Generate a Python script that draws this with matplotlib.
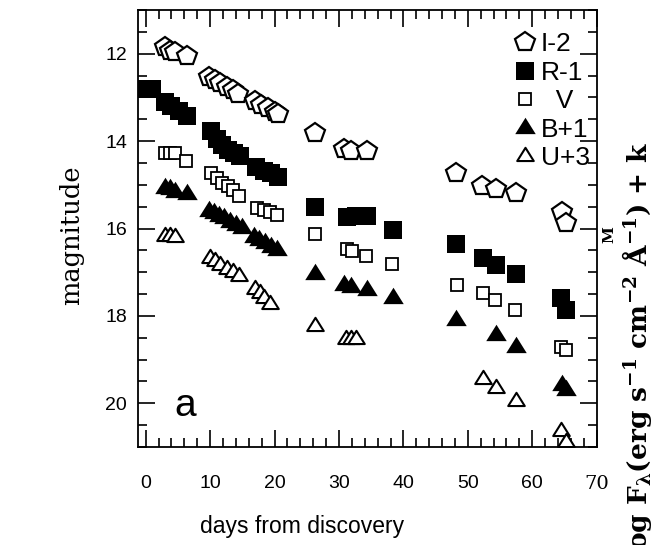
import matplotlib
matplotlib.use("Agg")
import matplotlib.pyplot as plt
from matplotlib.ticker import MultipleLocator
from matplotlib.path import Path

# ---------------- data (days from discovery, magnitude) ----------------
I_days = [3.0, 3.8, 4.5, 6.4, 9.8, 10.7, 11.6, 12.6, 13.6, 14.4, 16.9, 17.9, 19.0, 20.0, 20.6,
          26.2, 30.8, 31.8, 34.3, 48.1, 52.2, 54.3, 57.4, 64.6, 65.3]
I_mag = [11.85, 11.93, 11.97, 12.05, 12.53, 12.60, 12.68, 12.77, 12.84, 12.92, 13.09, 13.17, 13.25,
         13.33, 13.38, 13.82, 14.18, 14.22, 14.22, 14.74, 15.02, 15.10, 15.18, 15.62, 15.87]

R_days = [0.0, 1.0, 3.0, 4.0, 5.2, 6.4, 10.2, 11.0, 11.9, 12.8, 13.7, 14.6, 17.1, 18.3, 19.4, 20.5,
          26.3, 31.3, 32.6, 34.4, 38.4, 48.2, 52.3, 54.3, 57.4, 64.5, 65.2]
R_mag = [12.80, 12.80, 13.10, 13.20, 13.30, 13.43, 13.76, 13.95, 14.08, 14.20, 14.28, 14.34, 14.60,
         14.68, 14.73, 14.82, 15.50, 15.74, 15.72, 15.72, 16.03, 16.36, 16.68, 16.83, 17.03, 17.60, 17.87]

V_days = [3.0, 3.8, 4.6, 6.3, 10.1, 11.0, 11.8, 12.7, 13.6, 14.5, 17.2, 18.3, 19.3, 20.3,
          26.2, 31.2, 32.0, 34.2, 38.3, 48.3, 52.3, 54.2, 57.3, 64.5, 65.2]
V_mag = [14.27, 14.27, 14.28, 14.46, 14.72, 14.85, 14.95, 15.03, 15.13, 15.25, 15.53, 15.57, 15.63,
         15.68, 16.12, 16.48, 16.52, 16.62, 16.81, 17.30, 17.48, 17.63, 17.87, 18.72, 18.78]

B_days = [3.0, 3.8, 4.6, 6.4, 9.8, 10.6, 11.4, 12.2, 13.1, 14.0, 14.9, 16.8, 17.6, 18.5, 19.4, 20.3,
          26.2, 30.8, 31.8, 34.4, 38.4, 48.2, 54.3, 57.4, 64.6, 65.2]
B_mag = [15.07, 15.10, 15.16, 15.22, 15.60, 15.65, 15.71, 15.77, 15.84, 15.91, 15.98, 16.20, 16.27,
         16.34, 16.42, 16.50, 17.03, 17.30, 17.34, 17.41, 17.60, 18.10, 18.43, 18.72, 19.58, 19.70]

U_days = [3.0, 3.8, 4.5, 9.9, 10.8, 11.6, 12.6, 13.6, 14.5, 17.0, 17.7, 18.4, 19.3,
          26.3, 31.1, 31.8, 32.6, 52.3, 54.3, 57.4, 64.5, 65.3]
U_mag = [16.18, 16.18, 16.20, 16.67, 16.75, 16.83, 16.92, 17.00, 17.08, 17.38, 17.47, 17.58, 17.72,
         18.22, 18.52, 18.52, 18.52, 19.44, 19.64, 19.94, 20.63, 20.88]

labels = ["I-2", "R-1", "  V", "B+1", "U+3"]
x_ticks = [0, 10, 20, 30, 40, 50, 60, 70]
y_ticks = [12, 14, 16, 18, 20]

# ---------------- figure ----------------
plt.rcParams["mathtext.default"] = "regular"
fig = plt.figure(figsize=(6.54, 5.45), dpi=100)
ax = fig.add_axes([138/654, 1-447/545, (597-138)/654, (447-10)/545])

tri = Path([(-1, -0.55), (1, -0.55), (0, 1.05), (0, 0)], closed=True)

ax.plot(I_days, I_mag, ls="none", marker="p", ms=14.5, mfc="white", mec="black", mew=1.6, label=labels[0])
ax.plot(R_days, R_mag, ls="none", marker="s", ms=12.8, mfc="black", mec="black", mew=0.0, label=labels[1])
ax.plot(V_days, V_mag, ls="none", marker="s", ms=8.5, mfc="white", mec="black", mew=1.3, label=labels[2])
ax.plot(B_days, B_mag, ls="none", marker=tri, ms=15.5, mfc="black", mec="black", mew=0.0, label=labels[3])
ax.plot(U_days, U_mag, ls="none", marker=tri, ms=12.5, mfc="white", mec="black", mew=1.5, label=labels[4])

ax.set_xlim(-1.2, 70.05)
ax.set_ylim(21.0, 11.0)
ax.set_xticks(x_ticks)
ax.set_yticks(y_ticks)
ax.xaxis.set_minor_locator(MultipleLocator(2))
ax.yaxis.set_minor_locator(MultipleLocator(0.5))

ax.tick_params(which="both", direction="in", top=True, right=True, width=1.2, colors="black")
ax.tick_params(which="major", length=12.5)
ax.tick_params(which="minor", length=6.5)
ax.tick_params(axis="x", which="major", pad=20)
ax.tick_params(axis="y", which="major", pad=8)
for lab in ax.get_xticklabels() + ax.get_yticklabels():
    lab.set_fontfamily("Liberation Sans")
    lab.set_fontsize(14)
ax.get_xticklabels()[-1].set_fontfamily("DejaVu Serif")
for sp in ax.spines.values():
    sp.set_linewidth(1.3)

leg = ax.legend(loc="upper right", bbox_to_anchor=(1.0, 0.965), frameon=False,
                prop={"family": "Liberation Sans", "size": 19},
                handlelength=1.0, handletextpad=0.1, labelspacing=0.17,
                borderaxespad=0.15, borderpad=0.12, numpoints=1)

ax.text(6.2, 20.07, "a", fontsize=28, fontfamily="Liberation Sans", ha="center", va="center")

fig.text(302/654, 1-527/545, "days from discovery", fontsize=16.5, fontfamily="Liberation Sans",
         ha="center", va="center")
fig.text(72/654, 1-235/545, "magnitude", fontsize=18.5, fontfamily="DejaVu Serif",
         rotation=90, ha="center", va="center")

fig.text(637/654, 1-142/545,
         r"log F$_\lambda$(erg s$^{-1}$ cm$^{-2}$ Å$^{-1}$) + k",
         fontsize=19, fontfamily="DejaVu Serif", fontweight="bold",
         rotation=90, ha="center", va="top")
fig.text(609/654, 1-235/545, "M", fontsize=11, fontfamily="DejaVu Serif", fontweight="bold",
         rotation=90, ha="center", va="center")

fig.savefig("out.png", dpi=100)
